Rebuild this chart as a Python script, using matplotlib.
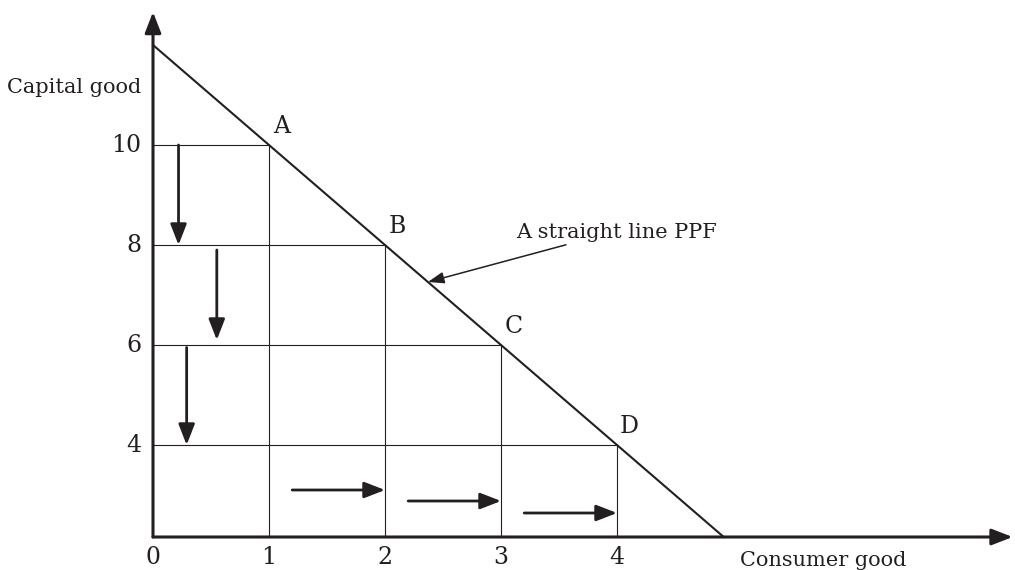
import numpy as np
import matplotlib
matplotlib.use("Agg")
import matplotlib.pyplot as plt

# points on the PPF
points = ["A", "B", "C", "D"]
consumer = [1, 2, 3, 4]
capital = [10, 8, 6, 4]
x_ticks = [0, 1, 2, 3, 4]
y_ticks = [4, 6, 8, 10]

ink = "#231f20"
plt.rcParams["font.family"] = ["DejaVu Serif"]
fs = 15      # words
fs_num = 17  # digits and point letters

fig = plt.figure(figsize=(10.15, 5.7), dpi=100)
ax = fig.add_axes([0, 0, 1, 1])
ax.set_xlim(-1.319, 7.431)
ax.set_ylim(1.5, 12.9)
ax.axis("off")

y0 = 2.16  # where the horizontal axis sits
ax_arrow = dict(arrowstyle="-|>,head_length=0.9,head_width=0.35", mutation_scale=14,
                lw=2.2, color=ink, shrinkA=0, shrinkB=0)
ax.annotate("", xy=(7.41, y0), xytext=(0, y0), arrowprops=ax_arrow)
ax.annotate("", xy=(0, 12.66), xytext=(0, y0), arrowprops=ax_arrow)

# straight line PPF, extended to both axes
slope, icpt = np.polyfit(consumer, capital, 1)
xs = np.array([0, (y0 - icpt) / slope])
ax.plot(xs, icpt + slope * xs, color=ink, lw=1.5)

# guide lines
for cx, cy in zip(consumer, capital):
    ax.plot([0, cx], [cy, cy], color=ink, lw=0.8)
    ax.plot([cx, cx], [y0, cy], color=ink, lw=0.8)

for name, cx, cy in zip(points, consumer, capital):
    ax.annotate(name, (cx, cy), xytext=(9, 13), textcoords="offset points",
                ha="center", va="center", fontsize=fs_num, color=ink)

# ticks
for t in x_ticks:
    ax.text(t, y0 - 0.42, str(t), ha="center", va="center", fontsize=fs_num, color=ink)
for t in y_ticks:
    ax.text(-0.1, t, str(t), ha="right", va="center", fontsize=fs_num, color=ink)

# arrows showing the trade-off
move = dict(arrowstyle="-|>,head_length=0.9,head_width=0.35", mutation_scale=14,
            lw=2.0, color=ink, shrinkA=0, shrinkB=0)
down_x = [0.22, 0.55, 0.29]
down_gap = [(0, 0), (0.1, 0.1), (0.05, 0)]
for i, xv in enumerate(down_x):
    top = capital[i] - down_gap[i][0]
    bot = capital[i + 1] + down_gap[i][1]
    ax.annotate("", xy=(xv, bot), xytext=(xv, top), arrowprops=move)
right_y = [3.1, 2.88, 2.64]
for i, yv in enumerate(right_y):
    start = consumer[i] + 0.2
    ax.annotate("", xy=(consumer[i + 1], yv), xytext=(start, yv), arrowprops=move)

# labels
ax.text(7 / 1015, 1 - 93 / 570, "Capital good", transform=ax.transAxes,
        ha="left", va="baseline", fontsize=fs, color=ink)
ax.text(740 / 1015, 1 - 566 / 570, "Consumer good", transform=ax.transAxes,
        ha="left", va="baseline", fontsize=fs, color=ink)

x_tip = 2.37
ax.annotate("A straight line PPF", xy=(x_tip, icpt + slope * x_tip),
            xytext=(3.13, 8.14), ha="left", va="baseline", fontsize=fs, color=ink,
            arrowprops=dict(arrowstyle="-|>,head_length=0.7,head_width=0.25",
                            mutation_scale=14, lw=1.1, color=ink,
                            shrinkA=0, shrinkB=0, relpos=(0.3, 0)))

fig.savefig("out.png", dpi=100)
